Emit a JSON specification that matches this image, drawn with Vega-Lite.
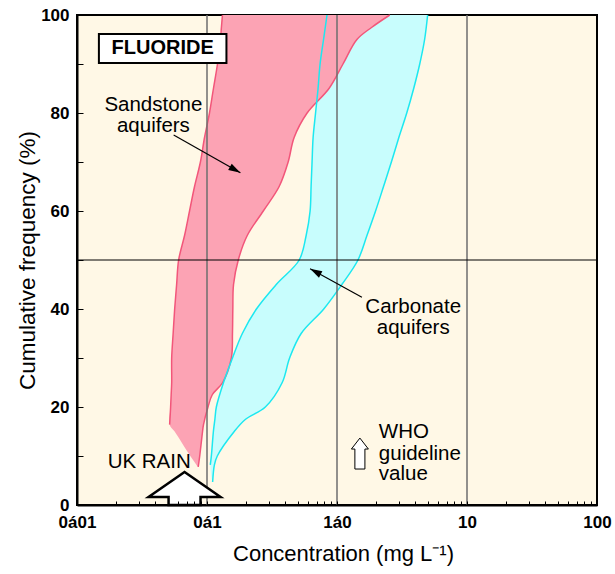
{
  "$schema": "https://vega.github.io/schema/vega-lite/v6.json",
  "width": 520,
  "height": 490,
  "autosize": {"type": "none"},
  "padding": {"left": 77, "top": 15, "right": 18, "bottom": 69},
  "config": {
    "view": {"fill": "#FFF8E6", "stroke": "#000000", "strokeWidth": 2},
    "font": "Liberation Sans"
  },
  "datasets": {
    "bands": [
      {"aquifer": "Sandstone", "pct": 100, "low": 0.1315, "high": 2.547},
      {"aquifer": "Sandstone", "pct": 97.5, "low": 0.1291, "high": 1.854},
      {"aquifer": "Sandstone", "pct": 95, "low": 0.1269, "high": 1.423},
      {"aquifer": "Sandstone", "pct": 90, "low": 0.1204, "high": 1.112},
      {"aquifer": "Sandstone", "pct": 85, "low": 0.1121, "high": 0.868},
      {"aquifer": "Sandstone", "pct": 80, "low": 0.1045, "high": 0.589},
      {"aquifer": "Sandstone", "pct": 75, "low": 0.0957, "high": 0.468},
      {"aquifer": "Sandstone", "pct": 70, "low": 0.089, "high": 0.421},
      {"aquifer": "Sandstone", "pct": 65, "low": 0.0802, "high": 0.359},
      {"aquifer": "Sandstone", "pct": 60, "low": 0.0734, "high": 0.271},
      {"aquifer": "Sandstone", "pct": 55, "low": 0.0672, "high": 0.204},
      {"aquifer": "Sandstone", "pct": 50, "low": 0.0605, "high": 0.174},
      {"aquifer": "Sandstone", "pct": 45, "low": 0.0584, "high": 0.16},
      {"aquifer": "Sandstone", "pct": 40, "low": 0.0564, "high": 0.158},
      {"aquifer": "Sandstone", "pct": 35, "low": 0.0549, "high": 0.157},
      {"aquifer": "Sandstone", "pct": 30, "low": 0.0535, "high": 0.154},
      {"aquifer": "Sandstone", "pct": 25, "low": 0.0535, "high": 0.132},
      {"aquifer": "Sandstone", "pct": 22.5, "low": 0.053, "high": 0.1098},
      {"aquifer": "Sandstone", "pct": 20, "low": 0.0525, "high": 0.1018},
      {"aquifer": "Sandstone", "pct": 16.4, "low": 0.0516, "high": 0.094},
      {"aquifer": "Sandstone", "pct": 15, "low": 0.0564, "high": 0.0924},
      {"aquifer": "Sandstone", "pct": 10, "low": 0.0744, "high": 0.0879},
      {"aquifer": "Sandstone", "pct": 7.8, "low": 0.085, "high": 0.0856},
      {"aquifer": "Carbonate", "pct": 100, "low": 0.838, "high": 4.98},
      {"aquifer": "Carbonate", "pct": 95, "low": 0.788, "high": 4.72},
      {"aquifer": "Carbonate", "pct": 90, "low": 0.741, "high": 4.33},
      {"aquifer": "Carbonate", "pct": 85, "low": 0.715, "high": 3.89},
      {"aquifer": "Carbonate", "pct": 80, "low": 0.684, "high": 3.44},
      {"aquifer": "Carbonate", "pct": 75, "low": 0.655, "high": 2.99},
      {"aquifer": "Carbonate", "pct": 70, "low": 0.643, "high": 2.62},
      {"aquifer": "Carbonate", "pct": 65, "low": 0.632, "high": 2.28},
      {"aquifer": "Carbonate", "pct": 60, "low": 0.621, "high": 1.98},
      {"aquifer": "Carbonate", "pct": 55, "low": 0.579, "high": 1.7},
      {"aquifer": "Carbonate", "pct": 50, "low": 0.512, "high": 1.45},
      {"aquifer": "Carbonate", "pct": 45, "low": 0.341, "high": 1.09},
      {"aquifer": "Carbonate", "pct": 40, "low": 0.24, "high": 0.791},
      {"aquifer": "Carbonate", "pct": 35, "low": 0.187, "high": 0.53},
      {"aquifer": "Carbonate", "pct": 30, "low": 0.157, "high": 0.432},
      {"aquifer": "Carbonate", "pct": 25, "low": 0.134, "high": 0.379},
      {"aquifer": "Carbonate", "pct": 20, "low": 0.118, "high": 0.281},
      {"aquifer": "Carbonate", "pct": 17.5, "low": 0.115, "high": 0.198},
      {"aquifer": "Carbonate", "pct": 15, "low": 0.112, "high": 0.162},
      {"aquifer": "Carbonate", "pct": 10, "low": 0.108, "high": 0.12},
      {"aquifer": "Carbonate", "pct": 8.2, "low": 0.106, "high": 0.114},
      {"aquifer": "Carbonate", "pct": 4.7, "low": 0.1095, "high": 0.1105}
    ],
    "vlines": [{"c": 0.1}, {"c": 1}, {"c": 10}],
    "hlines": [{"p": 50}],
    "box": [{"x1": 0.01474, "x2": 0.1411, "y1": 90.2, "y2": 96.1}],
    "title": [{"label": "FLUORIDE", "c": 0.0456, "p": 93.2}],
    "notes": [
      {"label": "Sandstone", "c": 0.0387, "p": 80.4},
      {"label": "aquifers", "c": 0.0387, "p": 76.2},
      {"label": "Carbonate", "c": 3.856, "p": 39.1},
      {"label": "aquifers", "c": 3.856, "p": 34.9},
      {"label": "UK RAIN", "c": 0.03594, "p": 7.55}
    ],
    "who": [
      {"label": "WHO", "c": 2.098, "p": 13.7},
      {"label": "guideline", "c": 2.098, "p": 9.2},
      {"label": "value", "c": 2.098, "p": 5.2}
    ],
    "arrows": [
      {"name": "Sandstone", "c": 0.0554, "p": 75.5, "ct": 0.1806, "pt": 67.8},
      {"name": "Carbonate", "c": 1.554, "p": 42.4, "ct": 0.621, "pt": 48.2}
    ],
    "headS": [{"c": 0.1806, "p": 67.8}],
    "headC": [{"c": 0.621, "p": 48.2}],
    "rain": [{"c": 0.0672, "p": 3.37}],
    "guide": [{"c": 1.5, "p": 10.5}]
  },
  "layer": [
    {
      "data": {"name": "bands"},
      "transform": [{"filter": "datum.aquifer === 'Carbonate'"}],
      "mark": {"type": "area", "orient": "horizontal", "interpolate": "catmull-rom", "color": "#C8FDFD"},
      "encoding": {
        "y": {
          "field": "pct", "type": "quantitative",
          "scale": {"domain": [0, 100], "nice": false, "zero": false},
          "axis": {
            "values": [0, 10, 20, 30, 40, 50, 60, 70, 80, 90, 100],
            "labelExpr": "datum.value % 20 === 0 ? datum.label : ''",
            "grid": false,
            "domainColor": "#000000", "domainWidth": 2,
            "tickColor": "#000000", "tickSize": -6, "tickWidth": 1,
            "labelFont": "Liberation Sans", "labelFontSize": 17, "labelFontWeight": "bold",
            "labelColor": "#000000", "labelPadding": 14,
            "title": "Cumulative frequency (%)",
            "titleFont": "Liberation Sans", "titleFontSize": 22.5, "titleFontWeight": "normal",
            "titleColor": "#000000", "titleAngle": -90, "titleX": -43, "titleY": 245,
            "titleBaseline": "alphabetic", "titleAlign": "center",
            "zindex": 1
          }
        },
        "x": {
          "field": "low", "type": "quantitative",
          "scale": {"type": "log", "domain": [0.01, 100], "nice": false},
          "axis": {
            "values": [0.01, 0.02, 0.03, 0.04, 0.05, 0.06, 0.07, 0.08, 0.09, 0.1, 0.2, 0.3, 0.4, 0.5, 0.6, 0.7, 0.8, 0.9, 1, 2, 3, 4, 5, 6, 7, 8, 9, 10, 20, 30, 40, 50, 60, 70, 80, 90, 100],
            "labelExpr": "datum.value === 0.01 ? '0á01' : datum.value === 0.1 ? '0á1' : datum.value === 1 ? '1á0' : datum.value === 10 ? '10' : datum.value === 100 ? '100' : ''",
            "labelOverlap": false, "labelFlush": false, "labelBound": false,
            "grid": false,
            "domainColor": "#000000", "domainWidth": 2,
            "tickColor": "#000000", "tickSize": -4, "tickWidth": 1,
            "labelFont": "Liberation Sans", "labelFontSize": 17, "labelFontWeight": "bold",
            "labelColor": "#000000", "labelBaseline": "alphabetic", "labelPadding": 26,
            "title": "Concentration (mg L⁻¹)",
            "titleFont": "Liberation Sans", "titleFontSize": 22, "titleFontWeight": "normal",
            "titleColor": "#000000", "titleX": 266, "titleY": 55, "titleBaseline": "alphabetic",
            "zindex": 1
          }
        },
        "x2": {"field": "high"}
      }
    },
    {
      "data": {"name": "bands"},
      "transform": [{"filter": "datum.aquifer === 'Sandstone'"}],
      "mark": {"type": "area", "orient": "horizontal", "interpolate": "catmull-rom", "color": "#FCA3B4"},
      "encoding": {
        "y": {"field": "pct", "type": "quantitative"},
        "x": {"field": "low", "type": "quantitative"},
        "x2": {"field": "high"}
      }
    },
    {
      "data": {"name": "bands"},
      "transform": [
        {"fold": ["low", "high"], "as": ["side", "conc"]},
        {"filter": "datum.side === 'high' || (datum.aquifer === 'Sandstone' ? datum.pct >= 16.4 : datum.pct >= 8.2)"}
      ],
      "mark": {"type": "line", "interpolate": "catmull-rom", "strokeWidth": 1.5},
      "encoding": {
        "y": {"field": "pct", "type": "quantitative"},
        "x": {"field": "conc", "type": "quantitative"},
        "stroke": {
          "field": "aquifer", "type": "nominal",
          "scale": {"domain": ["Sandstone", "Carbonate"], "range": ["#F2567A", "#1CE8F0"]},
          "legend": null
        },
        "detail": {"field": "side"},
        "order": {"field": "pct", "type": "quantitative"}
      }
    },
    {
      "data": {"name": "vlines"},
      "mark": {"type": "rule", "color": "#6E6E6E", "strokeWidth": 1.5},
      "encoding": {"x": {"field": "c", "type": "quantitative"}}
    },
    {
      "data": {"name": "hlines"},
      "mark": {"type": "rule", "color": "#000000", "strokeWidth": 1},
      "encoding": {"y": {"field": "p", "type": "quantitative"}}
    },
    {
      "data": {"name": "box"},
      "mark": {"type": "rect", "fill": "#FFFFFF", "stroke": "#000000", "strokeWidth": 2},
      "encoding": {
        "x": {"field": "x1", "type": "quantitative"},
        "x2": {"field": "x2"},
        "y": {"field": "y1", "type": "quantitative"},
        "y2": {"field": "y2"}
      }
    },
    {
      "data": {"name": "title"},
      "mark": {"type": "text", "font": "Liberation Sans", "fontSize": 20, "fontWeight": "bold", "align": "center", "baseline": "middle", "color": "#000000"},
      "encoding": {
        "x": {"field": "c", "type": "quantitative"},
        "y": {"field": "p", "type": "quantitative"},
        "text": {"field": "label"}
      }
    },
    {
      "data": {"name": "notes"},
      "mark": {"type": "text", "font": "Liberation Sans", "fontSize": 20.5, "align": "center", "baseline": "alphabetic", "color": "#000000"},
      "encoding": {
        "x": {"field": "c", "type": "quantitative"},
        "y": {"field": "p", "type": "quantitative"},
        "text": {"field": "label"}
      }
    },
    {
      "data": {"name": "who"},
      "mark": {"type": "text", "font": "Liberation Sans", "fontSize": 20.5, "align": "left", "baseline": "alphabetic", "color": "#000000"},
      "encoding": {
        "x": {"field": "c", "type": "quantitative"},
        "y": {"field": "p", "type": "quantitative"},
        "text": {"field": "label"}
      }
    },
    {
      "data": {"name": "arrows"},
      "mark": {"type": "rule", "color": "#000000", "strokeWidth": 1.2},
      "encoding": {
        "x": {"field": "c", "type": "quantitative"},
        "y": {"field": "p", "type": "quantitative"},
        "x2": {"field": "ct"},
        "y2": {"field": "pt"}
      }
    },
    {
      "data": {"name": "headS"},
      "mark": {"type": "point", "shape": "M0,0L0.3,1L-0.3,1Z", "size": 576, "angle": 119.6, "filled": true, "color": "#000000", "opacity": 1},
      "encoding": {
        "x": {"field": "c", "type": "quantitative"},
        "y": {"field": "p", "type": "quantitative"}
      }
    },
    {
      "data": {"name": "headC"},
      "mark": {"type": "point", "shape": "M0,0L0.3,1L-0.3,1Z", "size": 576, "angle": 298.3, "filled": true, "color": "#000000", "opacity": 1},
      "encoding": {
        "x": {"field": "c", "type": "quantitative"},
        "y": {"field": "p", "type": "quantitative"}
      }
    },
    {
      "data": {"name": "rain"},
      "mark": {"type": "point", "shape": "M0,-0.458L1,0.236L0.444,0.236L0.444,0.458L-0.444,0.458L-0.444,0.236L-1,0.236Z", "size": 5184, "filled": true, "fill": "#FFFFFF", "stroke": "#000000", "strokeWidth": 2.5, "opacity": 1},
      "encoding": {
        "x": {"field": "c", "type": "quantitative"},
        "y": {"field": "p", "type": "quantitative"}
      }
    },
    {
      "data": {"name": "guide"},
      "mark": {"type": "point", "shape": "M0,-1.82L1,-0.53L0.59,-0.53L0.59,1.82L-0.59,1.82L-0.59,-0.53L-1,-0.53Z", "size": 289, "filled": true, "fill": "#FFFFFF", "stroke": "#000000", "strokeWidth": 1, "opacity": 1},
      "encoding": {
        "x": {"field": "c", "type": "quantitative"},
        "y": {"field": "p", "type": "quantitative"}
      }
    }
  ]
}
